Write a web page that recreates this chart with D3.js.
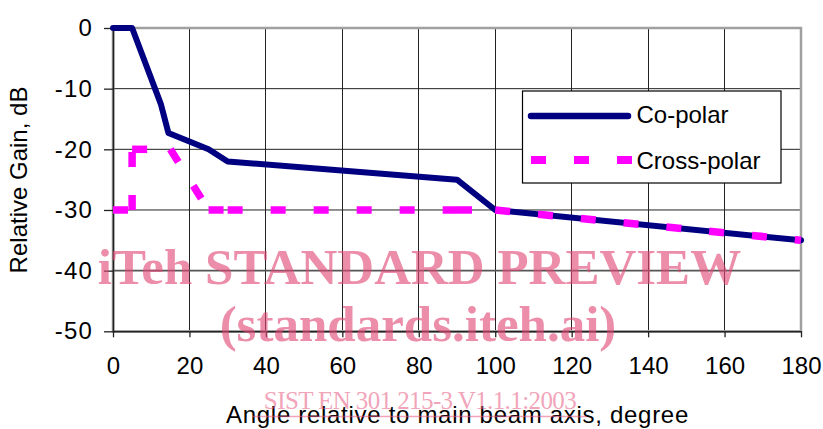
<!DOCTYPE html>
<html>
<head>
<meta charset="utf-8">
<script src="https://cdn.jsdelivr.net/npm/d3@7/dist/d3.min.js"></script>
<style>
  html, body { margin: 0; padding: 0; background: #fff; }
  svg { display: block; }
  text { font-family: "Liberation Sans", Arial, sans-serif; fill: #000; }
</style>
</head>
<body>
<svg id="chart" width="823" height="429"></svg>
<script>
// ---- data ----
const angleTicks = [0, 20, 40, 60, 80, 100, 120, 140, 160, 180];
const gainTicks = [-50, -40, -30, -20, -10, 0];
const gainTickLabels = ["-50", "-40", "-30", "-20", "-10", "0"];

const coAngles = [0, 5, 12.5, 14.5, 25, 30, 90, 100, 180];
const coGain   = [0, 0, -12.5, -17.3, -20, -22, -25, -30, -35];

const crossAngles = [0, 5, 5, 15, 25, 30, 90, 100, 180];
const crossGain   = [-30, -30, -20, -20, -30, -30, -30, -30, -35];

const seriesNames = ["Co-polar", "Cross-polar"];
const xTitle = "Angle relative to main beam axis, degree";
const yTitle = "Relative Gain, dB";
const watermark = ["iTeh STANDARD PREVIEW", "(standards.iteh.ai)", "SIST EN 301 215-3 V1.1.1:2003"];

(function () {
// ---- layout ----
const svg = d3.select("#chart");
const pL = 113, pR = 801, pT = 28, pB = 331.3;
const x = d3.scaleLinear().domain([0, 180]).range([pL, pR]);
const y = d3.scaleLinear().domain([-50, 0]).range([pB, pT]);

const coColor = "#000080", crossColor = "#ff00ff";

// gridlines
const grid = svg.append("g");
grid.selectAll("line.v").data(angleTicks.slice(1, -1)).join("line")
  .attr("x1", d => x(d)).attr("x2", d => x(d))
  .attr("y1", pT).attr("y2", pB)
  .attr("stroke", "#222").attr("stroke-width", 1).attr("shape-rendering", "crispEdges");
grid.selectAll("line.h").data(gainTicks.slice(1, -1)).join("line")
  .attr("x1", pL).attr("x2", pR)
  .attr("y1", d => y(d)).attr("y2", d => y(d))
  .attr("stroke", d => d === -40 ? "#555" : "#222")
  .attr("stroke-width", d => d === -40 ? 1.6 : 1);

// plot border
svg.append("rect")
  .attr("x", pL).attr("y", pT)
  .attr("width", pR - pL).attr("height", pB - pT)
  .attr("fill", "none").attr("stroke", "#a0a0a0").attr("stroke-width", 2.5);

// axes
const xAxis = d3.axisBottom(x).tickValues(angleTicks).tickFormat(d3.format("d"))
  .tickSize(6).tickSizeOuter(0).tickPadding(19.5);
const gx = svg.append("g").attr("transform", `translate(0,${pB})`).call(xAxis);
gx.select(".domain").attr("stroke", "#222").attr("stroke-width", 1.6);
gx.selectAll(".tick line").attr("stroke", "#222").attr("stroke-width", 1.3);
gx.selectAll(".tick text").attr("font-size", 24).attr("font-family", "Liberation Sans, Arial, sans-serif");

const yAxis = d3.axisLeft(y).tickValues(gainTicks)
  .tickFormat((d, i) => gainTickLabels[i])
  .tickSize(9).tickSizeOuter(0).tickPadding(11);
const gy = svg.append("g").attr("transform", `translate(${pL},0)`).call(yAxis);
gy.select(".domain").attr("stroke", "#222").attr("stroke-width", 1.6);
gy.selectAll(".tick line").attr("stroke", "#222").attr("stroke-width", 1.3);
gy.selectAll(".tick text").attr("font-size", 24).attr("letter-spacing", 1.2)
  .attr("font-family", "Liberation Sans, Arial, sans-serif");

// series
const coData = coAngles.map((a, i) => [a, coGain[i]]);
const crossData = crossAngles.map((a, i) => [a, crossGain[i]]);
const line = d3.line().x(d => x(d[0])).y(d => y(d[1]));

svg.append("path").datum(coData)
  .attr("d", line).attr("fill", "none")
  .attr("stroke", coColor).attr("stroke-width", 6)
  .attr("stroke-linejoin", "round").attr("stroke-linecap", "round");

// dashed cross-polar: dash pattern restarts at each data point
const crossSegs = d3.pairs(crossData).filter(p => p[0][0] !== p[1][0] || p[0][1] !== p[1][1]);
svg.append("g").selectAll("path").data(crossSegs).join("path")
  .attr("d", d => line(d)).attr("fill", "none")
  .attr("stroke", crossColor).attr("stroke-width", 7.5)
  .attr("stroke-dasharray", "15,28");

// legend
const lg = svg.append("g");
lg.append("rect").attr("x", 522.5).attr("y", 91).attr("width", 258.5).attr("height", 92)
  .attr("fill", "#fff").attr("stroke", "#000").attr("stroke-width", 1.2);
lg.append("line").attr("x1", 531).attr("x2", 628).attr("y1", 116).attr("y2", 116)
  .attr("stroke", coColor).attr("stroke-width", 6.5).attr("stroke-linecap", "round");
lg.append("line").attr("x1", 531).attr("x2", 632).attr("y1", 160).attr("y2", 160)
  .attr("stroke", crossColor).attr("stroke-width", 8).attr("stroke-dasharray", "15,28");
lg.selectAll("text").data(seriesNames).join("text")
  .attr("x", 636.5).attr("y", (d, i) => i === 0 ? 122.5 : 168.5)
  .attr("font-size", 24).text(d => d);

// axis titles
svg.append("text").attr("x", 457.5).attr("y", 423).attr("text-anchor", "middle")
  .attr("font-size", 24).attr("letter-spacing", 0.7).text(xTitle);
svg.append("text").attr("transform", "translate(27,180) rotate(-90)")
  .attr("text-anchor", "middle").attr("font-size", 24).text(yTitle);

// watermark overlay
const wm = svg.append("g").attr("opacity", 0.62);
wm.append("text").attr("x", 419.5).attr("y", 284).attr("text-anchor", "middle")
  .style("font-family", "'Liberation Serif', 'Times New Roman', serif")
  .style("fill", "rgb(226,72,118)")
  .attr("font-weight", "bold").attr("font-size", 51).text(watermark[0]);
wm.append("text").attr("x", 418).attr("y", 341).attr("text-anchor", "middle")
  .style("font-family", "'Liberation Serif', 'Times New Roman', serif")
  .style("fill", "rgb(226,72,118)")
  .attr("font-weight", "bold").attr("font-size", 51).text(watermark[1]);
const wm2 = svg.append("g").attr("opacity", 0.55);
wm2.append("text").attr("x", 420).attr("y", 409).attr("text-anchor", "middle")
  .style("font-family", "'Liberation Serif', 'Times New Roman', serif")
  .style("fill", "rgb(230,90,130)")
  .attr("font-size", 25).attr("letter-spacing", -0.6).text(watermark[2]);
wm2.append("line").attr("x1", 253).attr("x2", 587).attr("y1", 416.5).attr("y2", 416.5)
  .attr("stroke", "rgb(230,90,130)").attr("stroke-width", 1.5);
})();
</script>
</body>
</html>
